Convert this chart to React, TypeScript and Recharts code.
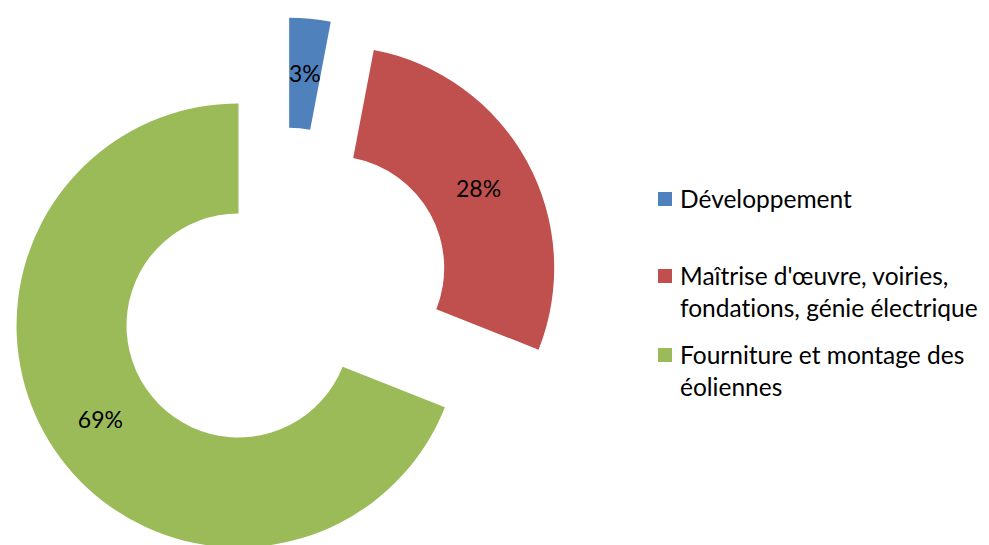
import * as React from "react"
import { PieChart, Pie, Cell, Legend } from "recharts"

const categories = [
  "Développement",
  "Maîtrise d'œuvre, voiries, fondations, génie électrique",
  "Fourniture et montage des éoliennes",
]
const shares = [3, 28, 69]
const colors = ["#4F81BD", "#C0504D", "#9BBB59"]
const legendLines = [
  ["Développement"],
  ["Maîtrise d'œuvre, voiries,", "fondations, génie électrique"],
  ["Fourniture et montage des", "éoliennes"],
]

const RADIAN = Math.PI / 180
const FONT = "Lato, 'Open Sans', sans-serif"

// centre of the whole donut and how far each slice is pulled out
const CX = 284
const CY = 294.5
const EXPLODE = 55
const OUTER = 222
const INNER = 112

const total = shares.reduce((s, v) => s + v, 0)

// offset for each slice along its own middle angle (clockwise from 12 o'clock)
const offsets = shares.map((v, i) => {
  const before = shares.slice(0, i).reduce((s, x) => s + x, 0)
  const mid = ((before + v / 2) / total) * 360
  return {
    dx: EXPLODE * Math.sin(mid * RADIAN),
    dy: -EXPLODE * Math.cos(mid * RADIAN),
  }
})

const data = categories.map((name, i) => ({ name, value: shares[i] }))

export default function App() {
  const renderLabel = (show: number) => (props: any) => {
    const { cx, cy, midAngle, innerRadius, outerRadius, index, value } = props
    if (index !== show) return null
    const r = innerRadius + (outerRadius - innerRadius) * 0.5
    const x = cx + r * Math.cos(-midAngle * RADIAN)
    const y = cy + r * Math.sin(-midAngle * RADIAN)
    return (
      <text
        x={x}
        y={y}
        fill="#000"
        textAnchor="middle"
        dominantBaseline="central"
        style={{ fontFamily: FONT, fontSize: 23 }}
      >
        {`${Math.round((value / total) * 100)}%`}
      </text>
    )
  }

  const renderLegend = () => (
    <div style={{ fontFamily: FONT, fontSize: 24.5, color: "#000", fontVariantLigatures: "none" }}>
      {legendLines.map((lines, i) => (
        <div
          key={i}
          style={{
            position: "absolute",
            left: 0,
            top: [0, 77, 156][i],
            lineHeight: "32px",
          }}
        >
          <div
            style={{
              position: "absolute",
              left: 0,
              top: 9,
              width: 14,
              height: 14,
              background: colors[i],
            }}
          />
          <div style={{ marginLeft: 22, whiteSpace: "nowrap" }}>
            {lines.map((l, j) => (
              <div key={j}>{l}</div>
            ))}
          </div>
        </div>
      ))}
    </div>
  )

  return (
    <div style={{ position: "absolute", left: 0, top: 0, width: 989, height: 545, background: "#fff" }}>
      <PieChart width={989} height={545} margin={{ top: 0, right: 0, bottom: 0, left: 0 }}>
        {shares.map((_, k) => (
          <Pie
            key={k}
            data={data}
            dataKey="value"
            cx={CX + offsets[k].dx}
            cy={CY + offsets[k].dy}
            innerRadius={INNER}
            outerRadius={OUTER}
            startAngle={90}
            endAngle={-270}
            paddingAngle={0}
            stroke="none"
            label={renderLabel(k)}
            labelLine={false}
            isAnimationActive={false}
          >
            {data.map((_, i) => (
              <Cell key={`cell-${i}`} fill={i === k ? colors[i] : "transparent"} stroke="none" />
            ))}
          </Pie>
        ))}
        <Legend
          content={renderLegend}
          wrapperStyle={{ position: "absolute", left: 658, top: 183, width: 330, height: 240 }}
        />
      </PieChart>
    </div>
  )
}
